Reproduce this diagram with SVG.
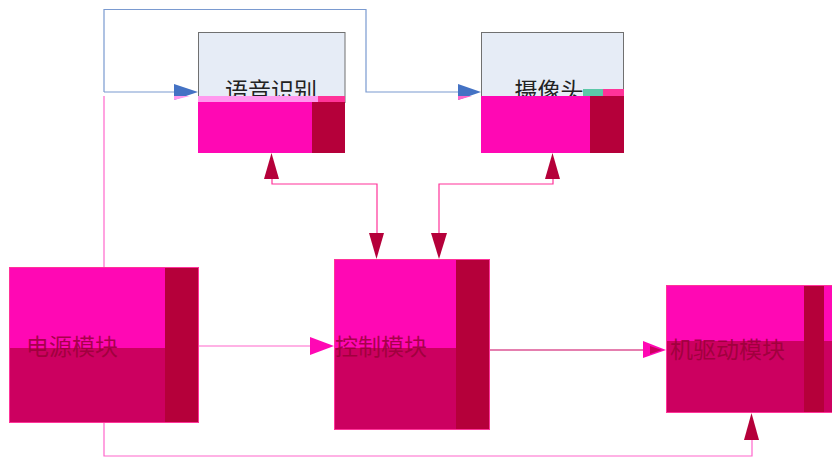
<svg xmlns="http://www.w3.org/2000/svg" width="832" height="459" viewBox="0 0 832 459">
<style>
.top{fill:#FF08B4}
.bot{fill:#CC0060}
.dark{fill:#B5003A}
.light{fill:#E6ECF6;stroke:#707070;stroke-width:1}
.lbl{font-family:"Noto Sans CJK SC","Noto Sans",sans-serif;font-size:23px}
.dlbl{fill:#990038;fill-opacity:0.85}
.blk{fill:#222}
.blue{fill:none;stroke:#7A9AD0;stroke-width:1.2}
.pink{fill:none;stroke:#FF3399;stroke-width:1.2}
.ltpink{fill:none;stroke:#FF66CC;stroke-width:1.2}
.ahd{fill:#B5003A}
.ahb{fill:#4472C4}
.ahm{fill:#FF08B4}
</style>
<rect width="832" height="459" fill="#FFFFFF"/>
<g id="connectors">
  <polyline class="blue" points="104,92 104,9.5 366,9.5 366,92 460,92"/>
  <line class="blue" x1="104" y1="92" x2="176" y2="92"/>
  <line class="ltpink" x1="104" y1="96" x2="104" y2="267"/>
  <polygon class="ahb" points="174,84 198,92 174,100"/>
  <polygon fill="#FF99EE" points="174,96 190,96 174,100"/>
  <polygon class="ahb" points="458,84 481,92 458,100"/>
  <polygon fill="#FF66CC" points="458,96 472,96 458,100"/>
  <polyline class="pink" points="272,179 272,184 377,184 377,234"/>
  <polygon class="ahd" points="264,179 271.5,153 279,179"/>
  <polygon class="ahd" points="369,233 384,233 376.5,259"/>
  <polyline class="pink" points="553,179 553,184 439,184 439,234"/>
  <polygon class="ahd" points="545,179 552.5,153 560,179"/>
  <polygon class="ahd" points="431,233 447,233 439,259"/>
  <line class="ltpink" x1="199" y1="346" x2="312" y2="346"/>
  <polygon class="ahm" points="310,337 334,346 310,355"/>
  <line x1="490" y1="350" x2="644" y2="350" stroke="#CC0060" stroke-width="1.2"/>
  <polygon class="ahm" points="643,341 666,350 643,358"/>
  <polygon fill="#CC0060" points="650,346 662,350 650,354"/>
  <polyline class="ltpink" points="104,423 104,456 752,456 752,440"/>
  <polygon class="ahd" points="744,440 751.5,413 759,440"/>
</g>
<g id="speech">
  <rect class="light" x="198.5" y="32.5" width="146.5" height="70"/>
  <text class="lbl blk" x="271" y="99" text-anchor="middle">语音识别</text>
  <rect x="198" y="96" width="120" height="6" fill="#FF99EE"/>
  <rect x="318" y="96" width="27" height="6" fill="#FF3399"/>
  <rect class="top" x="198" y="102" width="114" height="51"/>
  <rect class="dark" x="312" y="102" width="33" height="51"/>
</g>
<g id="camera">
  <rect class="light" x="481.5" y="32.5" width="142" height="64"/>
  <text class="lbl blk" x="549" y="99" text-anchor="middle">摄像头</text>
  <rect x="583" y="89" width="20" height="7" fill="#5CC8A8"/>
  <rect x="603" y="89" width="21" height="7" fill="#FF3399"/>
  <rect class="top" x="481" y="96" width="109" height="57"/>
  <rect class="dark" x="590" y="96" width="34" height="57"/>
</g>
<g id="power">
  <rect class="top" x="9" y="267" width="156" height="81"/>
  <rect class="bot" x="9" y="348" width="156" height="75"/>
  <rect class="dark" x="165" y="267" width="34" height="156"/>
  <rect x="9.5" y="267.5" width="189" height="155" fill="none" stroke="#FF3399" stroke-width="1"/>
  <text class="lbl dlbl" x="26" y="355">电源模块</text>
</g>
<g id="control">
  <rect class="top" x="334" y="259" width="122" height="89"/>
  <rect class="bot" x="334" y="348" width="122" height="82"/>
  <rect class="dark" x="456" y="259" width="34" height="171"/>
  <rect x="334.5" y="259.5" width="155" height="170" fill="none" stroke="#FF3399" stroke-width="1"/>
  <text class="lbl dlbl" x="335" y="355">控制模块</text>
</g>
<g id="motor">
  <rect class="top" x="666" y="285" width="138" height="56"/>
  <rect class="bot" x="666" y="341" width="138" height="72"/>
  <rect class="dark" x="804" y="285" width="20" height="128"/>
  <rect class="top" x="824" y="285" width="8" height="56"/>
  <rect class="bot" x="824" y="341" width="8" height="72"/>
  <rect x="666.5" y="285.5" width="170" height="127" fill="none" stroke="#FF3399" stroke-width="1"/>
  <text class="lbl dlbl" x="670" y="358">机驱动模块</text>
</g>
</svg>
